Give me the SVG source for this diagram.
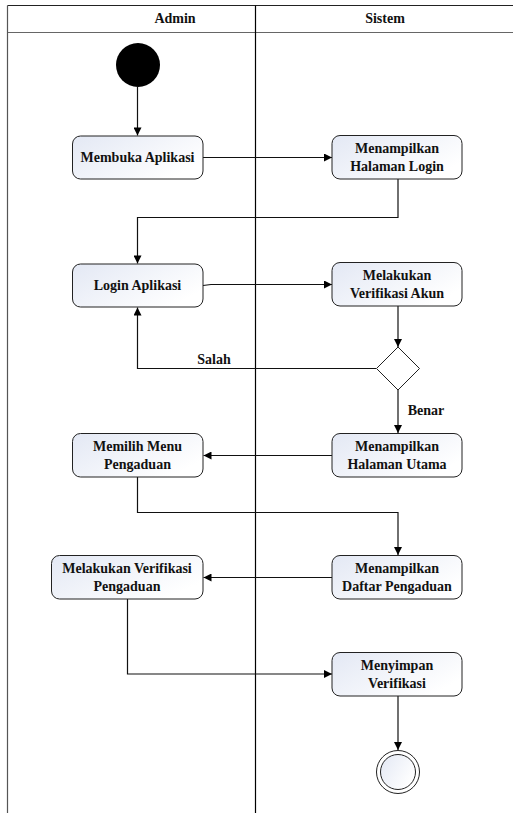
<svg xmlns="http://www.w3.org/2000/svg" width="513" height="813" viewBox="0 0 513 813">
<defs>
<linearGradient id="g" x1="0" y1="0" x2="1" y2="0.6">
<stop offset="0" stop-color="#e3e8f4"/>
<stop offset="1" stop-color="#ffffff"/>
</linearGradient>
<marker id="ah" viewBox="0 0 10 10" refX="10" refY="5" markerWidth="9" markerHeight="8" markerUnits="userSpaceOnUse" orient="auto">
<path d="M0,0 L10,5 L0,10 z" fill="#000"/>
</marker>
<style>
.box{fill:url(#g);stroke:#222;stroke-width:1}
.t{font-family:"Liberation Serif","Times New Roman",serif;font-weight:bold;font-size:14px;fill:#111;text-anchor:middle}
.c{fill:none;stroke:#111;stroke-width:1.2}
.a{marker-end:url(#ah)}
</style>
</defs>
<rect width="513" height="813" fill="#fff"/>
<g id="frame">
<line x1="7.5" y1="5.5" x2="513" y2="5.5" stroke="#222" stroke-width="1.2"/>
<line x1="7.5" y1="32.5" x2="513" y2="32.5" stroke="#666" stroke-width="1.2"/>
<line x1="7.5" y1="5.5" x2="7.5" y2="813" stroke="#555" stroke-width="1.2"/>
<line x1="255.5" y1="5.5" x2="255.5" y2="813" stroke="#000" stroke-width="1.2"/>
<text class="t" x="175" y="23">Admin</text>
<text class="t" x="385" y="23">Sistem</text>
</g>
<g id="connectors">
<path class="c a" d="M137.5,87 V135.5"/>
<path class="c a" d="M203,157.5 H332"/>
<path class="c a" d="M398,179 V217.5 H137.5 V263.5"/>
<path class="c a" d="M203,285.5 L211,284.5 H332"/>
<path class="c a" d="M398,306 V347"/>
<path class="c a" d="M376,368.5 H137.5 V307.5"/>
<path class="c a" d="M398,390 V433"/>
<path class="c a" d="M332,455.5 H203.5"/>
<path class="c a" d="M137.5,477 V512.5 H398 V555"/>
<path class="c a" d="M332,577.5 H203.5"/>
<path class="c a" d="M127.5,599 V674 H332"/>
<path class="c a" d="M398,696 V750"/>
<text class="t" x="214" y="364">Salah</text>
<text class="t" x="426" y="415">Benar</text>
</g>
<g id="start"><circle cx="138" cy="65" r="22" fill="#000"/></g>
<g id="n1"><rect class="box" x="72.5" y="136" width="130.5" height="43" rx="8"/><text class="t" x="137.5" y="162">Membuka Aplikasi</text></g>
<g id="n2"><rect class="box" x="332" y="135.5" width="130" height="43.5" rx="8"/><text class="t" x="397" y="153">Menampilkan</text><text class="t" x="397" y="171">Halaman Login</text></g>
<g id="n3"><rect class="box" x="72.5" y="264" width="130.5" height="43" rx="8"/><text class="t" x="137.5" y="290">Login Aplikasi</text></g>
<g id="n4"><rect class="box" x="332" y="262.5" width="130" height="43.5" rx="8"/><text class="t" x="397" y="280">Melakukan</text><text class="t" x="397" y="298">Verifikasi Akun</text></g>
<g id="d1"><path d="M398,347 L419.5,368.5 L398,390 L376.5,368.5 z" fill="#fff" stroke="#222" stroke-width="1"/></g>
<g id="n5"><rect class="box" x="72.5" y="433.5" width="130.5" height="43.5" rx="8"/><text class="t" x="137.5" y="451">Memilih Menu</text><text class="t" x="137.5" y="469">Pengaduan</text></g>
<g id="n6"><rect class="box" x="332" y="433.5" width="130" height="43.5" rx="8"/><text class="t" x="397" y="451">Menampilkan</text><text class="t" x="397" y="469">Halaman Utama</text></g>
<g id="n7"><rect class="box" x="51.5" y="555.5" width="151.5" height="43.5" rx="8"/><text class="t" x="127" y="573">Melakukan Verifikasi</text><text class="t" x="127" y="591">Pengaduan</text></g>
<g id="n8"><rect class="box" x="332" y="555.5" width="130" height="43.5" rx="8"/><text class="t" x="397" y="573">Menampilkan</text><text class="t" x="397" y="591">Daftar Pengaduan</text></g>
<g id="n9"><rect class="box" x="332" y="652.5" width="130" height="43.5" rx="8"/><text class="t" x="397" y="670">Menyimpan</text><text class="t" x="397" y="688">Verifikasi</text></g>
<g id="end"><circle cx="398" cy="772" r="21.5" fill="#fff" stroke="#222" stroke-width="1"/><circle cx="398" cy="772" r="17.5" fill="url(#g)" stroke="#222" stroke-width="1"/></g>
</svg>
